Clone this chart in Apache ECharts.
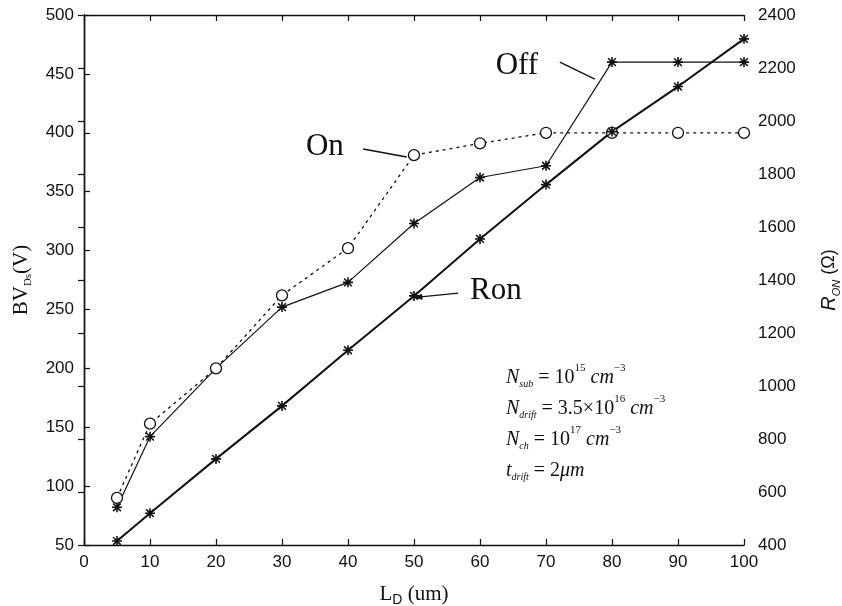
<!DOCTYPE html>
<html>
<head>
<meta charset="utf-8">
<script src="https://cdn.jsdelivr.net/npm/echarts@6/dist/echarts.min.js"></script>
<style>
html, body { margin: 0; padding: 0; background: #fff; }
#main { width: 842px; height: 606px; }
</style>
</head>
<body>
<div id="main"></div>
<script>
// drift length, um
var ld = [5, 10, 20, 30, 40, 50, 60, 70, 80, 90, 100];
// breakdown voltage (V), left axis
var bvOff = [82, 142, 200, 252, 273, 323, 362, 372, 460, 460, 460];
var bvOn = [90, 153, 200, 262, 302, 381, 391, 400, 400, 400, 400];
// on resistance (ohm), right axis
var ron = [415, 520, 725, 925, 1135, 1340, 1555, 1760, 1960, 2130, 2310];

var paramLines = [
    '{n|N}{sb|sub}{r| = 10}{sp|15}{n| cm}{sp|−3}',
    '{n|N}{sb|drift}{r| = 3.5×10}{sp|16}{n| cm}{sp|−3}',
    '{n|N}{sb|ch}{r| = 10}{sp|17}{n| cm}{sp|−3}',
    '{n|t}{sb|drift}{r| = 2}{n|μm}'
];

// labels with leader lines, in data units of the left axis
var notes = [
    { text: 'Off', at: [65.6, 457], from: [72.1, 460], to: [77.4, 445.5], arrow: false },
    { text: 'On', at: [36.5, 388], from: [42.3, 386.2], to: [48.9, 379.4], arrow: false },
    { text: 'Ron', at: [62.4, 266], from: [56.7, 263.9], to: [49.9, 260], arrow: true }
];

var ink = '#111';
var serif = '"Liberation Serif", "DejaVu Serif", serif';
var sans = '"Liberation Sans Narrow", "Liberation Sans", Arial, sans-serif';
var star = 'path://M4.2,0L5.8,0L5.8,10L4.2,10Z M0,4.2L10,4.2L10,5.8L0,5.8Z M0.6,1.7L1.7,0.6L9.4,8.3L8.3,9.4Z M8.3,0.6L9.4,1.7L1.7,9.4L0.6,8.3Z';

function pairs(ys) {
    return ld.map(function (x, i) { return [x, ys[i]] })
}

var myChart = echarts.init(document.getElementById('main'));

var axisLine = { show: true, lineStyle: { color: ink, width: 1.4 } };
var tick = { show: true, inside: true, length: 6, lineStyle: { color: ink, width: 1.2 } };
var label = { color: ink, fontFamily: sans, fontSize: 17, formatter: function (v) { return String(v) } };

myChart.setOption({
    animation: false,
    backgroundColor: '#fff',
    grid: { left: 84, right: 98, top: 15, bottom: 61, outerBoundsMode: 'none', containLabel: false },
    xAxis: [{
        type: 'value',
        min: 0, max: 100, interval: 10,
        position: 'bottom',
        axisLine: axisLine, axisTick: tick,
        axisLabel: Object.assign({ margin: 9 }, label),
        splitLine: { show: false },
        name: '{a|L}{s|D}{a| (um)}',
        nameLocation: 'middle',
        nameGap: 36,
        nameTextStyle: {
            rich: {
                a: { fontFamily: serif, fontSize: 21, color: ink, lineHeight: 26 },
                s: { fontFamily: sans, fontSize: 14, color: ink, lineHeight: 22, verticalAlign: 'bottom' }
            }
        }
    }, {
        type: 'value',
        min: 0, max: 100, interval: 10,
        position: 'top',
        axisLine: axisLine, axisTick: tick,
        axisLabel: { show: false },
        splitLine: { show: false }
    }],
    yAxis: [{
        type: 'value',
        min: 50, max: 500, interval: 50,
        position: 'left',
        axisLine: axisLine, axisTick: tick,
        axisLabel: Object.assign({ margin: 10 }, label),
        splitLine: { show: false },
        name: '{a|BV}{s|Ds}{a|(V)}',
        nameLocation: 'middle',
        nameRotate: 90,
        nameGap: 50,
        nameTextStyle: {
            rich: {
                a: { fontFamily: serif, fontSize: 21, color: ink, lineHeight: 26 },
                s: { fontFamily: serif, fontSize: 11, color: ink, lineHeight: 20, verticalAlign: 'bottom' }
            }
        }
    }, {
        type: 'value',
        min: 400, max: 2400, interval: 200,
        position: 'right',
        axisLine: axisLine, axisTick: tick,
        axisLabel: Object.assign({ margin: 14 }, label),
        splitLine: { show: false },
        name: '{i|R}{s|ON}{a| (Ω)}',
        nameLocation: 'middle',
        nameRotate: 90,
        nameGap: 72,
        nameTextStyle: {
            rich: {
                i: { fontFamily: sans, fontStyle: 'italic', fontSize: 20, color: ink, lineHeight: 26 },
                s: { fontFamily: sans, fontStyle: 'italic', fontSize: 11, color: ink, lineHeight: 20, verticalAlign: 'bottom' },
                a: { fontFamily: sans, fontSize: 18, color: ink, lineHeight: 26 }
            }
        }
    }],
    series: [{
        name: 'Off',
        type: 'line',
        data: pairs(bvOff),
        symbol: star, symbolSize: 10,
        itemStyle: { color: ink },
        lineStyle: { color: ink, width: 1.2 }
    }, {
        name: 'On',
        type: 'line',
        data: pairs(bvOn),
        symbol: 'circle', symbolSize: 11,
        itemStyle: { color: '#fff', borderColor: ink, borderWidth: 1.3 },
        lineStyle: { color: ink, width: 1.3, type: [3, 4] },
        z: 3
    }, {
        name: 'Ron',
        type: 'line',
        yAxisIndex: 1,
        data: pairs(ron),
        symbol: star, symbolSize: 10,
        itemStyle: { color: ink },
        lineStyle: { color: ink, width: 2 }
    }]
});

// annotations placed through the axes
var graphics = [];
notes.forEach(function (n) {
    var p = myChart.convertToPixel({ xAxisIndex: 0, yAxisIndex: 0 }, n.at);
    var a = myChart.convertToPixel({ xAxisIndex: 0, yAxisIndex: 0 }, n.from);
    var b = myChart.convertToPixel({ xAxisIndex: 0, yAxisIndex: 0 }, n.to);
    graphics.push({
        type: 'text', x: p[0], y: p[1],
        style: { text: n.text, font: '31px ' + serif, fill: ink, align: 'center', verticalAlign: 'middle' }
    });
    graphics.push({
        type: 'line',
        shape: { x1: a[0], y1: a[1], x2: b[0], y2: b[1] },
        style: { stroke: ink, lineWidth: 1.4 }
    });
    if (n.arrow) {
        var dx = b[0] - a[0], dy = b[1] - a[1];
        var len = Math.sqrt(dx * dx + dy * dy);
        var ux = dx / len, uy = dy / len;
        graphics.push({
            type: 'polygon',
            shape: { points: [
                [b[0], b[1]],
                [b[0] - ux * 9 - uy * 3, b[1] - uy * 9 + ux * 3],
                [b[0] - ux * 9 + uy * 3, b[1] - uy * 9 - ux * 3]
            ] },
            style: { fill: ink }
        });
    }
});

graphics.push({
    type: 'text', x: 506, y: 362,
    style: {
        text: paramLines.join('\n'),
        rich: {
            n: { fontFamily: serif, fontStyle: 'italic', fontSize: 20, fill: ink, lineHeight: 31, verticalAlign: 'middle' },
            r: { fontFamily: serif, fontSize: 20, fill: ink, lineHeight: 31, verticalAlign: 'middle' },
            sb: { fontFamily: serif, fontStyle: 'italic', fontSize: 10, fill: ink, height: 18, lineHeight: 18, verticalAlign: 'bottom' },
            sp: { fontFamily: serif, fontSize: 11, fill: ink, height: 13, lineHeight: 13, verticalAlign: 'top' }
        }
    }
});

myChart.setOption({ graphic: graphics });
</script>
</body>
</html>
